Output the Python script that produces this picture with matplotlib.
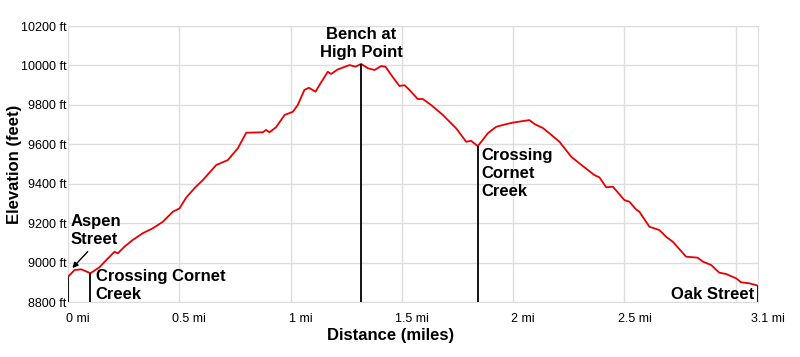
import matplotlib
matplotlib.use("Agg")
import matplotlib.pyplot as plt
import matplotlib.transforms as mtransforms

plt.rcParams['font.family'] = ['Liberation Sans', 'DejaVu Sans']

# профиль высот: расстояние (мили) и высота (футы)
dist = [0.0, 0.029, 0.059, 0.074, 0.101, 0.141, 0.172, 0.209, 0.224, 0.254,
        0.291, 0.336, 0.381, 0.426, 0.471, 0.501, 0.531, 0.568, 0.606, 0.666,
        0.718, 0.763, 0.801, 0.875, 0.890, 0.905, 0.935, 0.973, 1.010, 1.032,
        1.062, 1.082, 1.112, 1.130, 1.167, 1.182, 1.212, 1.265, 1.292, 1.317,
        1.347, 1.377, 1.407, 1.426, 1.452, 1.489, 1.512, 1.534, 1.571, 1.594,
        1.632, 1.684, 1.744, 1.789, 1.811, 1.841, 1.863, 1.886, 1.924, 1.953,
        1.998, 2.073, 2.096, 2.133, 2.163, 2.208, 2.261, 2.298, 2.365, 2.388,
        2.418, 2.448, 2.500, 2.522, 2.552, 2.567, 2.612, 2.657, 2.687, 2.717,
        2.777, 2.829, 2.852, 2.889, 2.926, 2.957, 3.002, 3.024, 3.061, 3.1]
elev = [8928, 8962, 8966, 8959, 8946, 8976, 9013, 9055, 9047, 9081,
        9115, 9149, 9174, 9207, 9258, 9275, 9330, 9377, 9419, 9495,
        9520, 9580, 9659, 9661, 9673, 9661, 9687, 9749, 9765, 9799,
        9876, 9887, 9867, 9901, 9968, 9957, 9980, 10002, 9994, 10008,
        9986, 9977, 9997, 9994, 9952, 9896, 9900, 9876, 9830, 9830,
        9799, 9749, 9681, 9613, 9618, 9591, 9622, 9656, 9689, 9698,
        9710, 9723, 9703, 9683, 9656, 9613, 9537, 9503, 9444, 9432,
        9382, 9385, 9317, 9309, 9270, 9258, 9182, 9165, 9131, 9106,
        9030, 9025, 9005, 8988, 8949, 8942, 8920, 8900, 8895, 8883]

# отметки на маршруте
mark_dist = [0.0, 0.101, 1.317, 1.841, 3.1]
mark_elev = [8928, 8946, 10008, 9591, 8883]

y_ticks = [8800, 9000, 9200, 9400, 9600, 9800, 10000, 10200]
x_grid = [0, 0.5, 1, 1.5, 2, 2.5, 3]
x_ticks = [0, 0.5, 1, 1.5, 2, 2.5, 3.1]
x_labels = ['0 mi', '0.5 mi', '1 mi', '1.5 mi', '2 mi', '2.5 mi', '3.1 mi']

fig = plt.figure(figsize=(8, 3.57), dpi=100)
ax = fig.add_axes([0.085, 0.154, 0.8625, 0.773])

ax.set_xlim(0, 3.1)
ax.set_ylim(8800, 10200)

# сетка
for g in x_grid:
    ax.axvline(g, color='#dddddd', lw=1, zorder=0)
for g in y_ticks:
    ax.axhline(g, color='#dddddd', lw=1, zorder=0)

ax.plot(dist, elev, color='#e80000', lw=1.3, zorder=3)

# вертикальные линии отметок
ax.vlines(mark_dist, 8800, mark_elev, color='black', lw=1.3, zorder=4)

ax.set_yticks(y_ticks)
ax.set_yticklabels([f'{v} ft' for v in y_ticks], fontsize=9)
ax.set_xticks(x_ticks)
ax.set_xticklabels(x_labels, fontsize=9)
ax.tick_params(axis='y', length=0, pad=1)
ax.tick_params(axis='x', length=0, pad=8)
offset = mtransforms.ScaledTranslation(10 / 100, 0, fig.dpi_scale_trans)
for lab in ax.get_xticklabels():
    lab.set_transform(lab.get_transform() + offset)

for s in ax.spines.values():
    s.set_color('#dddddd')

ax.set_xlabel('Distance (miles)', fontsize=12, fontweight='bold')
ax.set_ylabel('Elevation (feet)', fontsize=12, fontweight='bold')
ax.xaxis.set_label_coords(0.467, -0.095)
ax.yaxis.set_label_coords(-0.067, 0.5)

kw = dict(fontsize=12, fontweight='bold', zorder=5, linespacing=1.25)
ax.text(0.013, 9165, 'Aspen\nStreet', ha='left', va='center', **kw)
ax.annotate('', xy=(0.011, 8962), xytext=(0.097, 9066),
            arrowprops=dict(arrowstyle='-|>', color='black', lw=1, mutation_scale=8))
ax.text(0.124, 8886, 'Crossing Cornet\nCreek', ha='left', va='center', **kw)
ax.text(1.319, 10109, 'Bench at\nHigh Point', ha='center', va='center', **kw)
ax.text(1.858, 9450, 'Crossing\nCornet\nCreek', ha='left', va='center', **kw)
ax.text(3.085, 8840, 'Oak Street', ha='right', va='center', **kw)

fig.savefig('out.png', dpi=100)
